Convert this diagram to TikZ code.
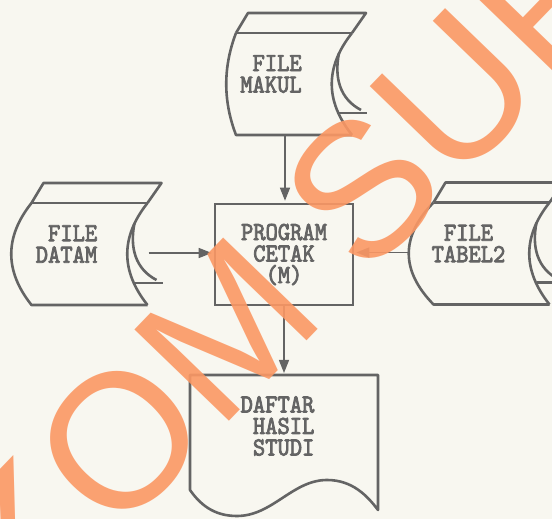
\documentclass[tikz,border=0pt]{standalone}
\usepackage{fontspec}
\usetikzlibrary{arrows.meta, positioning, calc}
\newfontfamily\dotfont[FakeStretch=0.9, FakeBold=3]{lmmono10-regular.otf}
\newfontfamily\markfont{Liberation Sans}
\definecolor{paper}{RGB}{248,247,240}
\definecolor{ink}{RGB}{100,100,100}
\definecolor{stamp}{RGB}{251,152,100}

% rolled paper (stored file) drawn round a text node
\newcommand{\rollfile}[2]{%
  \begin{scope}[shift={(#1.center)}, shift={(-35,41)}]
    \draw[outline] (0,0) -- (12,20) -- (130,20) -- (116,0);
    \draw[outline] (0,0) -- (116,0);
    \draw[outline] (0,0) .. controls (-#2,-34) and (-#2,-68) .. (0,-102) -- (116,-102);
    \draw[outline] (116,0) .. controls (89,-34) and (89,-68) .. (116,-102);
    \draw[outline] (103,-20) .. controls (98,-45) and (104,-66) .. (125,-77);
    \draw[outline] (103,-80) -- (131,-80);
    \coordinate (#1-s) at (49,-102);
    \coordinate (#1-e) at (117,-50);
    \coordinate (#1-w) at ({-0.75*#2},-50);
  \end{scope}}

% printed report sheet with wavy bottom
\newcommand{\docsheet}[1]{%
  \begin{scope}[shift={(#1.center)}]
    \draw[outline] (-87.5,-64) -- (-87.5,51) -- (100.5,51) -- (100.5,-84)
      .. controls (90,-70) and (75,-54) .. (49.5,-54)
      .. controls (15,-54) and (-5,-90) .. (-40.5,-90)
      .. controls (-60,-90) and (-75,-82) .. cycle;
    \coordinate (#1-n) at (6.5,51);
  \end{scope}}

\begin{document}
\begin{tikzpicture}[x=1pt, y=1pt,
    outline/.style={draw=ink, line width=2.6pt, line join=round},
    filetxt/.style={inner sep=0pt, text=ink,
      font=\dotfont\fontsize{26}{21.5}\selectfont},
    proc/.style={rectangle, draw=ink, line width=2.6pt, minimum width=138pt,
      minimum height=101pt, align=center, text=ink,
      font=\dotfont\fontsize{26}{21.5}\selectfont},
    flow/.style={draw=ink, line width=1.3pt,
      -{Triangle[length=13pt, width=10pt]}, shorten >=2pt},
    wmark/.style={inner sep=0pt, text=stamp, opacity=0.9,
      font=\markfont\fontsize{191}{191}\selectfont}
  ]
  \fill[paper] (0,0) rectangle (552,519);
  \useasboundingbox (0,0) rectangle (552,519);
  \clip (0,0) rectangle (552,519);

  \node[proc] (prog) at (284,264.5) {PROGRAM\\CETAK\\(M)};
  \node[filetxt, align=right] (makul) at (271,445) {FILE\\MAKUL};
  \node[filetxt, align=right] (datam) at (66.5,275) {FILE\\DATAM};
  \node[filetxt, align=center] (tabel) at (468.5,275.5) {FILE\\TABEL2};
  \node[filetxt, align=left] (daftar) at (277.5,93)
    {DAFTAR\\\hphantom{D}HASIL\\\hphantom{D}STUDI};

  \rollfile{makul}{13}
  \rollfile{datam}{27}
  \rollfile{tabel}{33}
  \docsheet{daftar}

  \draw[flow] (makul-s) -- (makul-s |- prog.north);
  \draw[flow] (datam-e) -- (datam-e -| prog.west);
  \draw[flow] (tabel-w) -- (tabel-w -| prog.east);
  \draw[flow] (prog.south) -- (prog.south |- daftar-n);

  % watermark
  \node[wmark, rotate=46, anchor=base west] (mark) at (-180,-326) {STIKOM SURABAYA};
\end{tikzpicture}
\end{document}
